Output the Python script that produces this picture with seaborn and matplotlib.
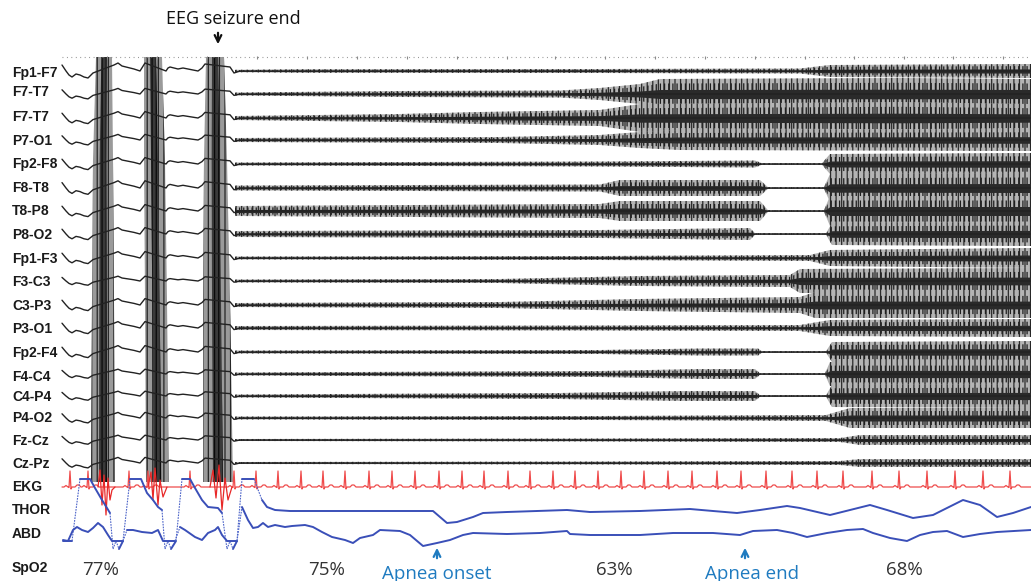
import numpy as np
import pandas as pd
import seaborn as sns
import matplotlib.pyplot as plt

# ---- data (x = time in px columns, y = page rows) ----
channels = ['Fp1-F7', 'F7-T7', 'F7-T7', 'P7-O1', 'Fp2-F8', 'F8-T8', 'T8-P8', 'P8-O2',
            'Fp1-F3', 'F3-C3', 'C3-P3', 'P3-O1', 'Fp2-F4', 'F4-C4', 'C4-P4', 'P4-O2',
            'Fz-Cz', 'Cz-Pz']
label_y = [73, 92, 117, 141, 164, 188, 211, 235, 259, 282, 306, 329, 353, 377, 397, 418, 441, 464]
trace_y = [71, 94, 118, 140, 164, 188, 211, 234, 258, 281, 305, 328, 352, 374, 396, 418, 440, 463]
poly_labels = ['EKG', 'THOR', 'ABD', 'SpO2']
poly_label_y = [487, 510, 534, 568]

# slow waves between the spike-wave bursts (shared shape, per-channel gain)
slow_x = [62, 64, 66, 69, 72, 76, 80, 84, 88, 91, 93, 114, 116, 118, 122, 126, 130, 134, 137,
          140, 145, 166, 168, 170, 174, 178, 183, 188, 193, 198, 202, 205, 230, 232, 234, 237, 240]
slow_dy = [-6, -3, 0, 4, 6, 3, 4, 6, 7, 4, 2, -6, -7, -8, -5, -4, -3, -2, -1, 0, -8, 0, -3,
           -4, -3, -2, -3, -2, -1, 0, -3, -7, -4, -1, 2, 1, 0]
slow_gain = [1.0, 0.7, 0.8, 0.7, 0.8, 0.9, 0.8, 0.8, 0.8, 0.6, 0.8, 0.8, 0.8, 0.6, 0.6, 0.7, 0.6, 0.7]

# amplitude envelope (half-height) of the post-seizure EEG
env_x = [
    [235, 300, 600, 800, 830, 1031],
    [235, 400, 560, 600, 640, 660, 900, 1031],
    [235, 400, 480, 600, 640, 900, 1031],
    [235, 500, 600, 640, 680, 1031],
    [235, 600, 755, 762, 822, 830, 1031],
    [235, 600, 620, 760, 768, 824, 830, 1031],
    [235, 600, 620, 760, 768, 824, 830, 1031],
    [235, 600, 750, 755, 826, 832, 1031],
    [235, 600, 810, 830, 1031],
    [235, 500, 640, 790, 800, 1031],
    [235, 500, 640, 800, 815, 1031],
    [235, 600, 800, 830, 1031],
    [235, 600, 700, 758, 762, 826, 832, 1031],
    [235, 600, 700, 755, 760, 825, 830, 1031],
    [235, 560, 680, 755, 760, 826, 832, 1031],
    [235, 600, 826, 850, 1031],
    [235, 600, 840, 860, 1031],
    [235, 600, 840, 860, 1031],
]
env_amp = [
    [1.2, 1.8, 2.0, 2.5, 6, 7],
    [1.5, 3, 3.5, 6, 10, 15, 16, 15],
    [2, 4, 6, 8, 14, 16, 14],
    [2, 3, 5, 8, 10, 11],
    [1.5, 2.5, 3.5, 0.8, 0.8, 10, 11],
    [2.5, 3.5, 8, 8, 0.8, 0.8, 14, 15],
    [5, 7, 10, 10, 0.8, 0.8, 15, 15],
    [3, 4, 6, 0.8, 0.8, 11, 12],
    [1.5, 2, 3, 8, 10],
    [1.5, 2, 5, 6, 12, 13],
    [2, 3, 6, 8, 13, 13],
    [2, 2.5, 3, 8, 9],
    [1.5, 2, 3.5, 3.5, 0.8, 0.8, 10, 11],
    [1.5, 3, 5, 5, 0.8, 0.8, 12, 12],
    [1.5, 3, 5, 5, 0.8, 0.8, 11, 12],
    [1.5, 2, 3, 10, 10],
    [1, 1.5, 2, 5, 5],
    [1, 1.5, 2, 4, 4],
]

# the three generalized bursts before the EEG seizure end
burst_rows = [57, 160, 300, 482]
burst_left = [[96, 93, 92, 91], [144, 144, 145, 146], [206, 204, 203, 203]]
burst_right = [[112, 113, 114, 115], [162, 165, 167, 169], [224, 227, 230, 233]]

# EKG
ekg_base = 487
ekg_beats = [70, 88, 129, 148, 190, 234, 256, 278, 301, 323, 345, 369, 392, 415, 439, 462,
             484, 508, 530, 553, 575, 598, 621, 644, 668, 692, 717, 741, 766, 792, 817,
             843, 872, 899, 927, 955, 983, 1010]
beat_dx = [-6, -4, -2, -1, 0, 1, 2, 5, 7, 9, 11]
beat_dy = [0, -1.5, 0, 0.5, -16, 2, 0, 0, -2, -2, 0]
art_x = [[98, 100, 102, 104, 106, 108, 110, 112, 115],
         [148, 151, 153, 155, 158, 160, 163, 167],
         [210, 213, 216, 219, 222, 225, 228, 232]]
art_y = [[487, 470, 505, 475, 515, 478, 500, 490, 487],
         [487, 472, 500, 468, 505, 480, 497, 487],
         [487, 470, 498, 465, 510, 478, 500, 487]]

# respiratory effort belts
thor_x = [63, 72, 80, 90, 95, 102, 107, 110, 113, 116, 119, 123, 130, 141, 147, 153, 158, 162,
          165, 168, 171, 176, 182, 190, 195, 202, 208, 218, 222, 227, 230, 233, 237, 242, 254,
          257, 262, 267, 275, 290, 433, 440, 447, 457, 473, 483, 507, 567, 590, 640, 690, 713,
          737, 760, 787, 800, 830, 870, 887, 913, 933, 963, 980, 997, 1013, 1031]
thor_y = [541, 541, 479, 479, 488, 500, 508, 513, 549, 541, 549, 541, 479, 479, 493, 500, 507, 510,
          549, 541, 549, 541, 479, 479, 488, 500, 507, 508, 513, 549, 541, 549, 541, 479, 479,
          487, 500, 507, 510, 511, 511, 517, 523, 522, 517, 513, 512, 510, 512, 511, 509, 511,
          513, 510, 506, 508, 515, 505, 510, 518, 515, 500, 505, 517, 513, 507]
abd_x = [63, 68, 73, 77, 82, 88, 93, 98, 103, 108, 112, 123, 127, 133, 142, 152, 158, 163, 175,
         180, 185, 195, 202, 208, 215, 218, 222, 227, 237, 242, 248, 253, 258, 263, 268, 275,
         285, 292, 305, 313, 322, 332, 345, 353, 360, 373, 380, 400, 410, 423, 437, 450, 463,
         473, 507, 540, 567, 570, 590, 640, 673, 690, 713, 740, 753, 777, 793, 807, 827, 847,
         863, 873, 890, 907, 920, 933, 947, 963, 980, 997, 1031]
abd_y = [540, 541, 530, 527, 530, 532, 528, 523, 527, 535, 541, 541, 530, 530, 532, 533, 530, 541,
         541, 527, 530, 537, 540, 533, 530, 527, 535, 541, 541, 507, 520, 528, 527, 523, 527, 525,
         527, 526, 525, 527, 532, 537, 540, 543, 538, 535, 530, 531, 535, 546, 543, 540, 535,
         533, 534, 533, 531, 534, 535, 535, 533, 533, 533, 535, 531, 530, 533, 537, 533, 530,
         529, 533, 538, 541, 535, 532, 531, 537, 534, 532, 530]

spo2_x = [101, 327, 614, 904]
spo2_vals = ['77%', '75%', '63%', '68%']
apnea_x = [437, 745]
apnea_text_x = [437, 752]
apnea_labels = ['Apnea onset', 'Apnea end']
seizure_end_x = 218
second_marks = [107, 157, 207, 257, 307, 357, 407, 457, 507, 555, 605, 655, 705, 755, 805, 854,
                904, 953, 1003]

# ---- figure ----
sns.set_theme(style='white')
plt.rcParams['font.family'] = ['Open Sans', 'DejaVu Sans']
plt.rcParams['hatch.linewidth'] = 0.9

fig = plt.figure(figsize=(10.31, 5.81), dpi=100)
ax = fig.add_axes([0, 0, 1, 1])
ax.set_xlim(0, 1031)
ax.set_ylim(581, 0)
ax.axis('off')

# time ruler
ax.hlines(57, 62, 1031, color='#8a8a8a', lw=0.8, linestyles=(0, (0.8, 3.2)))
ax.vlines(second_marks, 55.5, 58.5, color='#8a8a8a', lw=0.8)

# EEG traces: the dense activity is shown as hatched amplitude bands
for i, base in enumerate(trace_y):
    ex = np.array(env_x[i], dtype=float)
    ea = np.array(env_amp[i], dtype=float)
    ax.fill_between(ex, base - ea, base + ea, facecolor='#b4b4b4', edgecolor='#2a2a2a',
                    hatch='|||', lw=0)
    ax.fill_between(ex, base - 0.7 * ea, base + 0.7 * ea, facecolor='none', edgecolor='#1e1e1e',
                    hatch='||||', lw=0)
    ax.fill_between(ex, base - 0.3 * ea, base + 0.3 * ea, facecolor='#2a2a2a', lw=0)
    sx = slow_x + [1031]
    sy = [base + slow_gain[i] * d for d in slow_dy] + [base]
    sns.lineplot(x=sx, y=sy, color='#222222', lw=1.0, sort=False, estimator=None, ax=ax)

# generalized bursts
for left, right in zip(burst_left, burst_right):
    ax.fill_betweenx(burst_rows, left, right, facecolor='#9a9a9a', edgecolor='#262626',
                     hatch='|||', lw=0)
    mid_l = [(l * 2 + r) / 3 for l, r in zip(left, right)]
    mid_r = [(l + r * 2) / 3 for l, r in zip(left, right)]
    ax.fill_betweenx(burst_rows, mid_l, mid_r, facecolor='#3a3a3a', edgecolor='#0a0a0a',
                     hatch='||||', lw=0)

# EKG
ekg_x, ekg_y = [62], [ekg_base]
for b in ekg_beats:
    ekg_x += [b + d for d in beat_dx]
    ekg_y += [ekg_base + d for d in beat_dy]
ekg_x.append(1031)
ekg_y.append(ekg_base)
sns.lineplot(x=ekg_x, y=ekg_y, color='#ef4b4b', lw=0.9, sort=False, estimator=None, ax=ax)
for xs, ys in zip(art_x, art_y):
    sns.lineplot(x=xs, y=ys, color='#e82828', lw=0.9, sort=False, estimator=None, ax=ax)


# THOR / ABD: fast swings are drawn thin and dotted as in the recording
def belt(xs, ys):
    xs, ys = np.array(xs, float), np.array(ys, float)
    steep = np.abs(np.diff(ys)) / np.diff(xs) > 2.5
    run = [0]
    for k in range(len(steep)):
        if steep[k]:
            if len(run) > 1:
                sns.lineplot(x=xs[run], y=ys[run], color='#3a4fb8', lw=1.4, sort=False,
                             estimator=None, ax=ax)
            ax.plot(xs[k:k + 2], ys[k:k + 2], color='#4a62c8', lw=0.8, ls=(0, (1.5, 1)))
            run = [k + 1]
        else:
            run.append(k + 1)
    if len(run) > 1:
        sns.lineplot(x=xs[run], y=ys[run], color='#3a4fb8', lw=1.4, sort=False,
                     estimator=None, ax=ax)


belt(thor_x, thor_y)
belt(abd_x, abd_y)

# labels
for name, y in zip(channels + poly_labels, label_y + poly_label_y):
    ax.text(12, y, name, family=['Liberation Sans', 'DejaVu Sans'], fontweight='bold',
            fontsize=10, color='#1a1a1a', va='center', ha='left')

for x, v in zip(spo2_x, spo2_vals):
    ax.text(x, 570, v, fontsize=13.5, color='#333333', ha='center', va='center')

for ax_x, tx, txt in zip(apnea_x, apnea_text_x, apnea_labels):
    ax.annotate('', xy=(ax_x, 545), xytext=(ax_x, 561),
                arrowprops=dict(arrowstyle='->', color='#1f7bc0', lw=1.6, mutation_scale=12))
    ax.text(tx, 574, txt, fontsize=13.5, color='#1f7bc0', ha='center', va='center')

ax.text(233, 19, 'EEG seizure end', fontsize=13, color='#111111', ha='center', va='center')
ax.annotate('', xy=(seizure_end_x, 47), xytext=(seizure_end_x, 30),
            arrowprops=dict(arrowstyle='->', color='#111111', lw=1.6, mutation_scale=12))

fig.savefig('out.png', dpi=100)
